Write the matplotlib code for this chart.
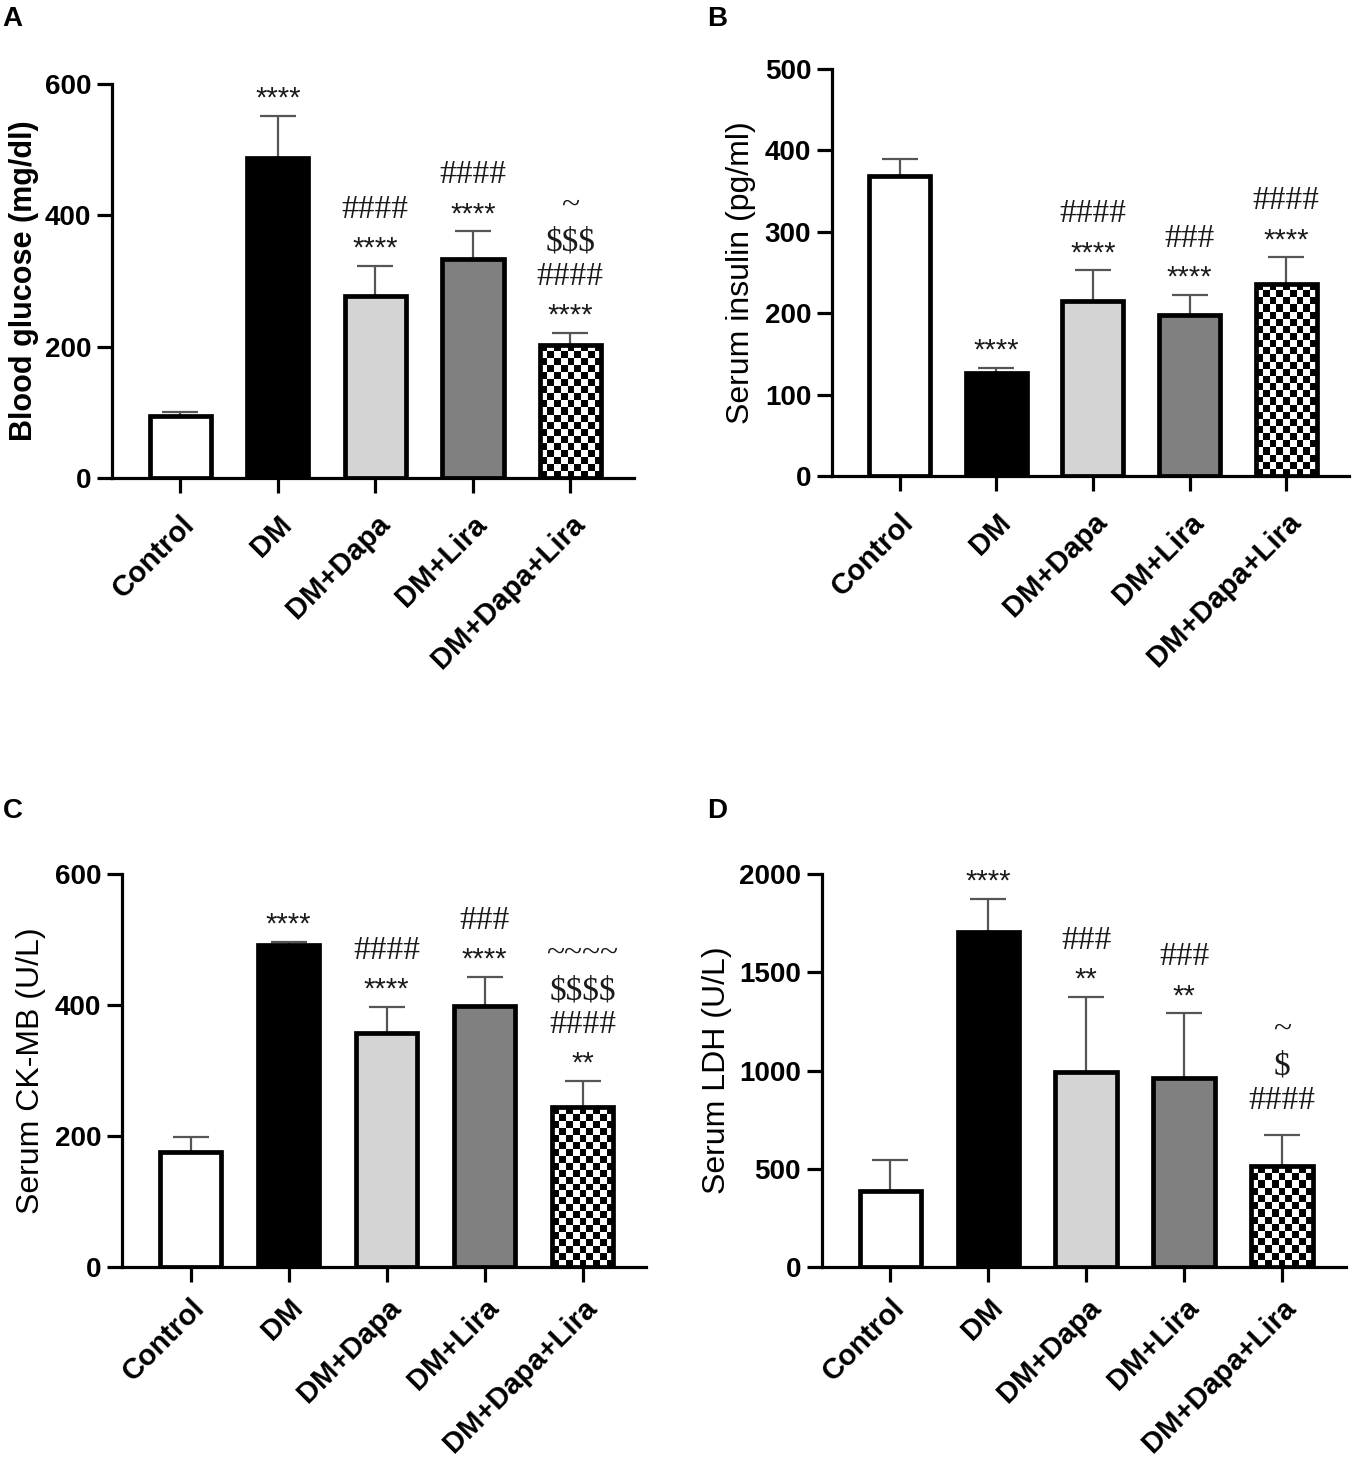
import numpy as np
import matplotlib
matplotlib.use("Agg")
import matplotlib.pyplot as plt

plt.rcParams["text.parse_math"] = False

# ---------------- data ----------------
groups = ["Control", "DM", "DM+Dapa", "DM+Lira", "DM+Dapa+Lira"]

glucose_mean = [95, 487, 278, 334, 203]
glucose_err = [6, 65, 45, 42, 18]
glucose_marks = [[], ["****"], ["****", "####"], ["****", "####"], ["****", "####", "$$$", "~"]]

insulin_mean = [369, 126, 215, 198, 236]
insulin_err = [21, 7, 38, 25, 33]
insulin_marks = [[], ["****"], ["****", "####"], ["****", "###"], ["****", "####"]]

ckmb_mean = [175, 491, 358, 398, 244]
ckmb_err = [24, 6, 39, 45, 40]
ckmb_marks = [[], ["****"], ["****", "####"], ["****", "###"], ["**", "####", "$$$$", "~~~~"]]

ldh_mean = [385, 1706, 995, 962, 512]
ldh_err = [158, 167, 380, 330, 162]
ldh_marks = [[], ["****"], ["**", "###"], ["**", "###"], ["####", "$", "~"]]

panel_letters = ["A", "B", "C", "D"]
ylabels = ["Blood glucose (mg/dl)", "Serum insulin (pg/ml)", "Serum CK-MB (U/L)", "Serum LDH (U/L)"]
yticks_list = [[0, 200, 400, 600], [0, 100, 200, 300, 400, 500], [0, 200, 400, 600],
               [0, 500, 1000, 1500, 2000]]

# ---------------- style ----------------
bar_fills = ["white", "black", "#d4d4d4", "#808080", None]  # None -> checkerboard
SANS = "Liberation Sans"
SERIF = "Liberation Serif"
MARK_STYLE = {
    "*": dict(family=SANS, size=21, lift=16),
    "#": dict(family=SERIF, size=24, lift=11),
    "$": dict(family=SERIF, size=24, lift=11),
    "~": dict(family=SERIF, size=24, lift=8),
}

fig = plt.figure(figsize=(13.57, 14.57), dpi=100)

rects = [
    (0.0825, 0.6719, 0.3845, 0.2704),
    (0.6131, 0.6733, 0.3810, 0.2793),
    (0.0899, 0.1304, 0.3863, 0.2697),
    (0.6057, 0.1304, 0.3860, 0.2697),
]
letter_pos = [(0.002, 0.996), (0.521, 0.996), (0.002, 0.452), (0.521, 0.452)]
label_weights = ["bold", "normal", "normal", "normal"]
label_sizes = [22, 23, 23, 23]
label_pads = [4, 6, 6, 5]
xlabel_pads = [12, 12, 8, 8]

datasets = [
    (glucose_mean, glucose_err, glucose_marks),
    (insulin_mean, insulin_err, insulin_marks),
    (ckmb_mean, ckmb_err, ckmb_marks),
    (ldh_mean, ldh_err, ldh_marks),
]

XLIM = (-0.70, 4.65)
BAR_W = 0.63

for i, (mean, err, marks) in enumerate(datasets):
    ax = fig.add_axes(rects[i])
    x = np.arange(len(groups))
    yt = yticks_list[i]
    ylim = (0, yt[-1])
    ax.set_xlim(*XLIM)
    ax.set_ylim(*ylim)

    # error bars (upper only)
    ax.errorbar(x, mean, yerr=[np.zeros(len(err)), err], fmt="none",
                ecolor="#555555", elinewidth=1.6, capsize=13, capthick=1.6, zorder=1)

    # filled bars
    fills = [c if c is not None else "white" for c in bar_fills]
    bars = ax.bar(x, mean, width=BAR_W, color=fills, edgecolor="none", zorder=2)

    # checkerboard for last bar
    for b, c in zip(bars, bar_fills):
        if c is None:
            x0, w, h = b.get_x(), b.get_width(), b.get_height()
            p0 = ax.transData.transform((x0, 0))
            p1 = ax.transData.transform((x0 + w, h))
            ncol = max(1, int(round(abs(p1[0] - p0[0]) / 7.0)))
            nrow = max(1, int(round(abs(p1[1] - p0[1]) / 7.0)))
            chk = (np.indices((nrow, ncol)).sum(axis=0) % 2).astype(float)
            im = ax.imshow(chk, extent=[x0, x0 + w, 0, h], cmap="gray", vmin=0.08, vmax=1,
                           aspect="auto", interpolation="nearest", origin="lower", zorder=2.5)
            im.set_clip_path(b)

    # outlines
    ax.bar(x, mean, width=BAR_W, fill=False, edgecolor="black", linewidth=3.4, zorder=3)

    ax.set_xlim(*XLIM)
    ax.set_ylim(*ylim)

    # annotations
    for xi, top_m, top_e, mk in zip(x, mean, err, marks):
        if not mk:
            continue
        top = top_m + top_e
        center = 25 if mk[0].startswith("*") else 37
        for j, m in enumerate(mk):
            st = MARK_STYLE[m[0]]
            if j > 0:
                center += 34
            ax.annotate(m, (xi, top), xytext=(0, center - st["lift"]),
                        textcoords="offset pixels", ha="center", va="baseline",
                        family=st["family"], fontsize=st["size"], color="#1a1a1a",
                        annotation_clip=False, parse_math=False)

    # axes styling
    for s in ["top", "right"]:
        ax.spines[s].set_visible(False)
    for s in ["left", "bottom"]:
        ax.spines[s].set_linewidth(2.3)
    ax.set_yticks(yt)
    ax.set_yticklabels([str(v) for v in yt], fontsize=20, fontweight="bold", family=SANS)
    ax.set_xticks(x)
    ax.set_xticklabels(groups, rotation=45, ha="right", va="top", rotation_mode="anchor",
                       fontsize=21, fontweight="bold", family=SANS)
    ax.tick_params(axis="both", direction="out", length=11, width=2.3)
    ax.tick_params(axis="y", pad=4)
    ax.tick_params(axis="x", pad=xlabel_pads[i])
    ax.set_ylabel(ylabels[i], fontsize=label_sizes[i], fontweight=label_weights[i], family=SANS,
                  labelpad=label_pads[i])

    fig.text(letter_pos[i][0], letter_pos[i][1], panel_letters[i], fontsize=20,
             fontweight="bold", family=SANS, ha="left", va="top")

fig.savefig("out.png", dpi=100, facecolor="white")
